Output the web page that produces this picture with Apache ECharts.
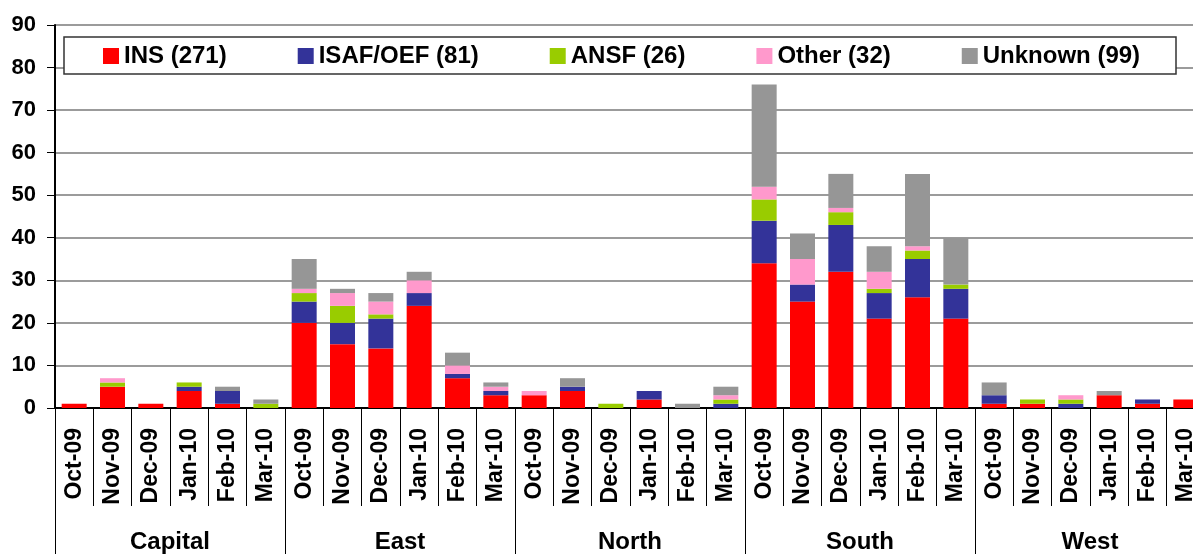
<!DOCTYPE html>
<html>
<head>
<meta charset="utf-8">
<script src="https://cdn.jsdelivr.net/npm/echarts@6/dist/echarts.min.js"></script>
<style>
  html, body { margin: 0; padding: 0; background: #fff; overflow: hidden; }
  /* the source picture is cropped on the right, so the chart is a bit wider than the window */
  #main { width: 1206px; height: 554px; }
</style>
</head>
<body>
<div id="main"></div>
<script>
const months = ["Oct-09", "Nov-09", "Dec-09", "Jan-10", "Feb-10", "Mar-10"];
const regions = ["Capital", "East", "North", "South", "West"];
const yTicks = [0, 10, 20, 30, 40, 50, 60, 70, 80, 90];

// one value per region/month, regions in the order above
const ins     = [1, 5, 1, 4, 1, 0,  20, 15, 14, 24, 7, 3,  3, 4, 0, 2, 0, 0,  34, 25, 32, 21, 26, 21,  1, 1, 0, 3, 1, 2];
const isaf    = [0, 0, 0, 1, 3, 0,  5, 5, 7, 3, 1, 1,      0, 1, 0, 2, 0, 1,  10, 4, 11, 6, 9, 7,     2, 0, 1, 0, 1, 0];
const ansf    = [0, 1, 0, 1, 0, 1,  2, 4, 1, 0, 0, 0,      0, 0, 1, 0, 0, 1,  5, 0, 3, 1, 2, 1,       0, 1, 1, 0, 0, 0];
const other   = [0, 1, 0, 0, 0, 0,  1, 3, 3, 3, 2, 1,      1, 0, 0, 0, 0, 1,  3, 6, 1, 4, 1, 0,       0, 0, 1, 0, 0, 0];
const unknown = [0, 0, 0, 0, 1, 1,  7, 1, 2, 2, 3, 1,      0, 2, 0, 0, 1, 2,  24, 6, 8, 6, 17, 11,    3, 0, 0, 1, 0, 0];

const seriesNames = ["INS (271)", "ISAF/OEF (81)", "ANSF (26)", "Other (32)", "Unknown (99)"];
const seriesColors = ["#ff0000", "#333399", "#99cc00", "#ff99cc", "#969696"];
const seriesData = [ins, isaf, ansf, other, unknown];

const categories = [];
regions.forEach(function () {
  months.forEach(function (m) { categories.push(m); });
});

const font = "Liberation Sans";
const chart = echarts.init(document.getElementById("main"));

chart.setOption({
  animation: false,
  textStyle: { fontFamily: font },
  grid: { left: 55, right: 1, top: 24.9, bottom: 145.7 },
  legend: {
    left: 103,
    top: 44,
    padding: 0,
    icon: "rect",
    itemWidth: 16,
    itemHeight: 16,
    itemGap: 71,
    textStyle: { fontFamily: font, fontSize: 24, fontWeight: "bold", color: "#000" },
    data: seriesNames
  },
  graphic: [
    {
      type: "rect",
      z: 3,
      shape: { x: 64, y: 37, width: 1112, height: 37 },
      style: { fill: "#fff", stroke: "#333", lineWidth: 1.5 }
    }
  ],
  xAxis: [
    {
      type: "category",
      data: categories,
      position: "bottom",
      axisLine: { show: true, lineStyle: { color: "#000", width: 2 } },
      axisTick: { show: true, interval: 0, length: 98, lineStyle: { color: "#000", width: 1 } },
      axisLabel: {
        interval: 0,
        rotate: 90,
        margin: 20,
        fontFamily: font,
        fontSize: 23,
        fontWeight: "bold",
        color: "#000"
      }
    },
    {
      type: "category",
      data: regions,
      position: "bottom",
      axisLine: { show: false },
      axisTick: { show: true, interval: 0, length: 146, lineStyle: { color: "#000", width: 1 } },
      axisLabel: {
        interval: 0,
        margin: 122,
        fontFamily: font,
        fontSize: 24,
        fontWeight: "bold",
        color: "#000"
      }
    }
  ],
  yAxis: {
    type: "value",
    min: yTicks[0],
    max: yTicks[yTicks.length - 1],
    interval: 10,
    axisLine: { show: true, lineStyle: { color: "#000", width: 2 } },
    axisTick: { show: true, length: 8, lineStyle: { color: "#000", width: 1 } },
    splitLine: { lineStyle: { color: "#7a7a7a", width: 1.5 } },
    axisLabel: {
      margin: 19,
      fontFamily: font,
      fontSize: 22,
      fontWeight: "bold",
      color: "#000"
    }
  },
  series: seriesNames.map(function (name, i) {
    return {
      name: name,
      type: "bar",
      stack: "total",
      xAxisIndex: 0,
      barWidth: 25,
      itemStyle: { color: seriesColors[i] },
      data: seriesData[i]
    };
  })
});
</script>
</body>
</html>
